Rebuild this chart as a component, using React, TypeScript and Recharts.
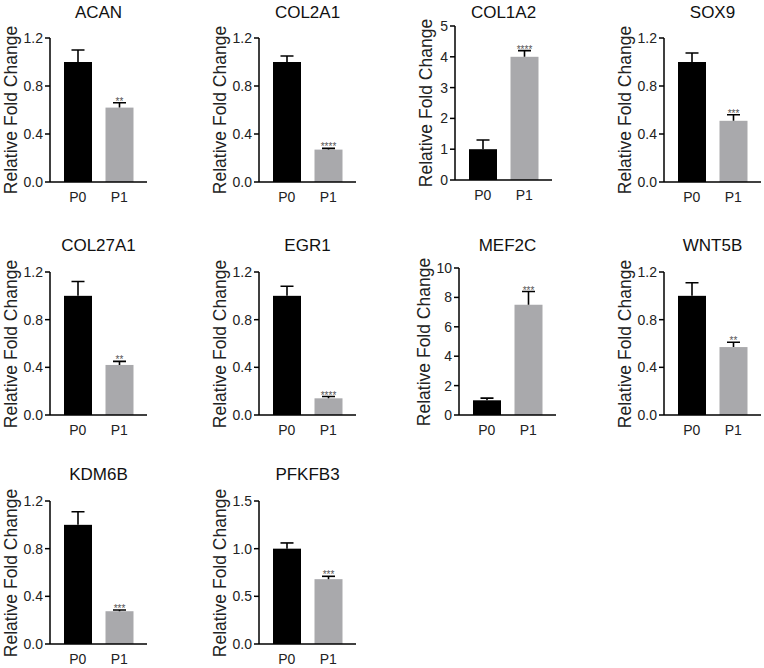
import { Bar, BarChart, XAxis, YAxis } from "recharts";

// gene panels, left to right, top to bottom
const genes = ["ACAN", "COL2A1", "COL1A2", "SOX9", "COL27A1", "EGR1", "MEF2C", "WNT5B", "KDM6B", "PFKFB3"];
const groups = ["P0", "P1"];

// mean and top of the (upper) error bar
const p0Mean = [1.0, 1.0, 1.0, 1.0, 1.0, 1.0, 1.0, 1.0, 1.0, 1.0];
const p0Upper = [1.1, 1.05, 1.3, 1.075, 1.12, 1.08, 1.15, 1.11, 1.11, 1.06];
const p1Mean = [0.62, 0.27, 4.0, 0.51, 0.42, 0.14, 7.5, 0.57, 0.275, 0.68];
const p1Upper = [0.66, 0.28, 4.2, 0.56, 0.45, 0.155, 8.4, 0.61, 0.285, 0.71];
const p1Stars = ["**", "****", "****", "***", "**", "****", "***", "**", "***", "***"];

const ticksFine = [0, 0.4, 0.8, 1.2];
const yTicks = [
  ticksFine,
  ticksFine,
  [0, 1, 2, 3, 4, 5],
  ticksFine,
  ticksFine,
  ticksFine,
  [0, 2, 4, 6, 8, 10],
  ticksFine,
  ticksFine,
  [0, 0.5, 1.0, 1.5],
];
const tickDecimals = [1, 1, 0, 1, 1, 1, 0, 1, 1, 1];

// page layout: y-axis x, plot top, plot bottom, gap from axis to y label centre, title centre y
const layout = [
  [50, 38, 182, 38, 12],
  [259, 38, 182, 38, 12],
  [455, 26, 180, 28, 12],
  [664, 38, 182, 38, 12],
  [50, 272, 415, 38, 245],
  [259, 272, 415, 38, 245],
  [459, 268, 415, 34, 245],
  [664, 272, 415, 38, 245],
  [50, 501, 644, 38, 474],
  [259, 501, 644, 38, 474],
];

const FONT = "'Liberation Sans', Arial, Helvetica, sans-serif";
const P1_FILL = "#a9a9ac";
const PLOT_W = 97;
const Y_AXIS_W = 50;
const TOP_M = 38;
const X_AXIS_H = 28;

function BarWithError(props: any) {
  const { x, y, width, height, payload } = props;
  const fill = payload.name === "P0" ? "#000000" : P1_FILL;
  const perUnit = height / payload.mean;
  const errY = y - (payload.upper - payload.mean) * perUnit;
  const cx = x + width / 2;
  return (
    <g>
      <rect x={x} y={y} width={width} height={height} fill={fill} />
      <line x1={cx} x2={cx} y1={y} y2={errY} stroke="#000" strokeWidth={1.6} />
      <line x1={cx - 6.5} x2={cx + 6.5} y1={errY} y2={errY} stroke="#000" strokeWidth={1.6} />
      {payload.stars ? (
        <text x={cx} y={errY + 2} textAnchor="middle" fontSize={10} fill="#555" fontFamily={FONT}>
          {payload.stars}
        </text>
      ) : null}
    </g>
  );
}

function Panel({ i }: { i: number }) {
  const [axisX, top, bottom, labelGap, titleY] = layout[i];
  const ticks = yTicks[i];
  const data = [
    { name: groups[0], mean: p0Mean[i], upper: p0Upper[i], stars: "" },
    { name: groups[1], mean: p1Mean[i], upper: p1Upper[i], stars: p1Stars[i] },
  ];
  const height = TOP_M + (bottom - top) + X_AXIS_H;
  const left = axisX - Y_AXIS_W;
  const chartTop = top - TOP_M;
  const axisStyle = { fill: "#222", fontSize: 14, fontFamily: FONT };
  return (
    <>
      <div
        style={{
          position: "absolute",
          left: axisX,
          width: PLOT_W,
          top: titleY,
          transform: "translateY(-50%)",
          textAlign: "center",
          fontFamily: FONT,
          fontSize: 17,
          color: "#111",
          lineHeight: 1,
          whiteSpace: "nowrap",
        }}
      >
        {genes[i]}
      </div>
      <div
        style={{
          position: "absolute",
          left: axisX - labelGap,
          top: (top + bottom) / 2,
          transform: "translate(-50%, -50%) rotate(-90deg)",
          fontFamily: FONT,
          fontSize: 17.5,
          color: "#222",
          lineHeight: 1,
          whiteSpace: "nowrap",
        }}
      >
        Relative Fold Change
      </div>
      <div style={{ position: "absolute", left, top: chartTop }}>
        <BarChart
          width={Y_AXIS_W + PLOT_W + 3}
          height={height}
          data={data}
          margin={{ top: TOP_M, right: 3, bottom: 0, left: 0 }}
        >
          <XAxis
            dataKey="name"
            padding={{ left: 7, right: 7 }}
            tickLine={false}
            tickSize={0}
            tickMargin={10}
            height={X_AXIS_H}
            axisLine={{ stroke: "#000", strokeWidth: 1.5 }}
            tick={axisStyle}
          />
          <YAxis
            width={Y_AXIS_W}
            domain={[0, ticks[ticks.length - 1]]}
            ticks={ticks}
            interval={0}
            allowDataOverflow
            tickSize={5}
            tickMargin={2}
            tickFormatter={(v: number) => v.toFixed(tickDecimals[i])}
            axisLine={{ stroke: "#000", strokeWidth: 1.5 }}
            tickLine={{ stroke: "#000", strokeWidth: 1.5 }}
            tick={axisStyle}
          />
          <Bar dataKey="mean" barSize={28} shape={BarWithError} isAnimationActive={false} />
        </BarChart>
      </div>
    </>
  );
}

export default function App() {
  return (
    <div
      style={{
        position: "absolute",
        left: 0,
        top: 0,
        width: 764,
        height: 668,
        background: "#fff",
        overflow: "hidden",
      }}
    >
      {genes.map((g, i) => (
        <Panel key={g} i={i} />
      ))}
    </div>
  );
}
